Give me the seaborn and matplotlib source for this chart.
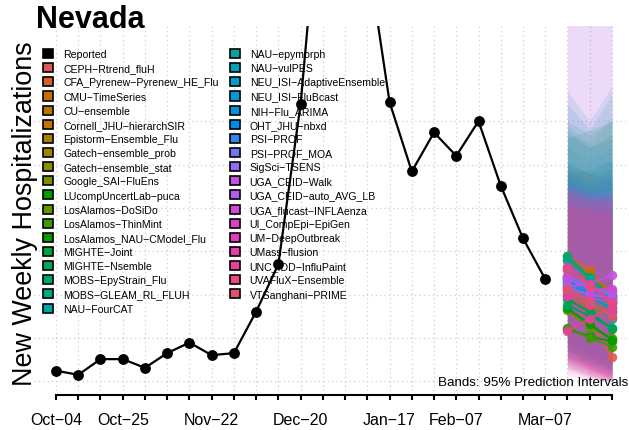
import numpy as np
import pandas as pd
import matplotlib
matplotlib.use("Agg")
import matplotlib.pyplot as plt
import matplotlib.dates as mdates
from matplotlib.patches import Patch
import seaborn as sns

# ---------------- data ----------------
season_start = "2025-10-04"
reported = [12.3, 7.5, 25.6, 25.6, 15.6, 32.5, 44.7, 30.2, 32.5, 80.4, 135.0,
            319.7, 606.0, 640.0, 494.0, 322.0, 242.0, 287.0, 260.0, 300.0,
            225.6, 165.0, 118.0]

forecast_dates = ["2026-03-14", "2026-03-21", "2026-03-28"]

models = [
    "CEPH-Rtrend_fluH", "CFA_Pyrenew-Pyrenew_HE_Flu", "CMU-TimeSeries",
    "CU-ensemble", "Cornell_JHU-hierarchSIR", "Epistorm-Ensemble_Flu",
    "Gatech-ensemble_prob", "Gatech-ensemble_stat", "Google_SAI-FluEns",
    "LUcompUncertLab-puca", "LosAlamos-DoSiDo", "LosAlamos-ThinMint",
    "LosAlamos_NAU-CModel_Flu", "MIGHTE-Joint", "MIGHTE-Nsemble",
    "MOBS-EpyStrain_Flu", "MOBS-GLEAM_RL_FLUH", "NAU-FourCAT",
    "NAU-epymorph", "NAU-vulPES", "NEU_ISI-AdaptiveEnsemble",
    "NEU_ISI-FluBcast", "NIH-Flu_ARIMA", "OHT_JHU-nbxd", "PSI-PROF",
    "PSI-PROF_MOA", "SigSci-TSENS", "UGA_CEID-Walk", "UGA_CEID-auto_AVG_LB",
    "UGA_flucast-INFLAenza", "UI_CompEpi-EpiGen", "UM-DeepOutbreak",
    "UMass-flusion", "UNC_IDD-InfluPaint", "UVAFluX-Ensemble",
    "VTSanghani-PRIME",
]

# median forecast per model (3 weekly horizons)
fc_median = [
    [108, 72, 28], [145, 128, 96], [128, 118, 104], [105, 90, 80],
    [140, 125, 100], [118, 104, 90], [110, 98, 86], [102, 92, 80],
    [98, 86, 74], [60, 52, 46], [82, 62, 50], [62, 50, 40],
    [84, 66, 48], [95, 80, 60], [88, 75, 62], [145, 120, 98],
    [140, 118, 92], [120, 100, 82], [132, 112, 96], [115, 96, 72],
    [118, 104, 94], [112, 98, 84], [120, 108, 98], [116, 100, 90],
    [110, 106, 100], [122, 110, 98], [118, 108, 102], [110, 112, 123],
    [108, 100, 96], [120, 106, 106], [100, 96, 92], [132, 112, 92],
    [98, 88, 80], [58, 72, 86], [130, 110, 90], [106, 92, 74],
]

# 95% prediction interval bounds per model
fc_lower = [
    [40, 15, 2], [55, 40, 28], [50, 40, 30], [45, 32, 20],
    [55, 40, 28], [48, 36, 26], [45, 34, 24], [42, 32, 22],
    [40, 30, 20], [28, 20, 14], [35, 24, 16], [26, 18, 12],
    [34, 24, 14], [38, 28, 18], [35, 26, 18], [50, 38, 28],
    [46, 34, 24], [40, 28, 18], [44, 32, 22], [36, 24, 12],
    [40, 28, 18], [36, 24, 14], [34, 22, 12], [30, 20, 10],
    [28, 18, 8], [26, 16, 6], [20, 10, 2], [15, 6, 0],
    [24, 14, 5], [18, 8, 0], [22, 12, 4], [28, 16, 6],
    [12, 4, 0], [6, 2, 0], [24, 12, 3], [16, 6, 0],
]
fc_upper = [
    [220, 210, 195], [250, 240, 230], [240, 235, 230], [225, 215, 205],
    [245, 240, 235], [235, 228, 222], [230, 222, 215], [222, 215, 210],
    [230, 220, 212], [215, 208, 200], [240, 245, 255], [210, 202, 195],
    [280, 290, 300], [250, 240, 245], [290, 270, 285], [300, 285, 300],
    [285, 270, 280], [320, 290, 330], [295, 275, 305], [335, 300, 340],
    [270, 255, 270], [255, 240, 255], [245, 232, 245], [238, 225, 238],
    [232, 220, 228], [228, 218, 224], [470, 480, 490], [450, 460, 470],
    [225, 215, 220], [220, 210, 215], [215, 205, 210], [225, 215, 210],
    [210, 200, 195], [200, 200, 205], [220, 210, 205], [205, 195, 190],
]

tick_dates = ["2025-10-04", "2025-10-25", "2025-11-22", "2025-12-20",
              "2026-01-17", "2026-02-07", "2026-03-07"]
tick_labels = ["Oct\u221204", "Oct\u221225", "Nov\u221222", "Dec\u221220",
               "Jan\u221217", "Feb\u221207", "Mar\u221207"]
grid_levels = [0, 50, 100, 150, 200, 250, 300]


# ---------------- colours (HCL hue wheel, like ggplot) ----------------
def hcl_hex(h, c, l):
    hr = np.deg2rad(h)
    u, v = c * np.cos(hr), c * np.sin(hr)
    xn, yn, zn = 95.047, 100.0, 108.883
    y = yn * ((l + 16) / 116) ** 3 if l > 8 else yn * l / 903.3
    den = xn + 15 * yn + 3 * zn
    un, vn = 4 * xn / den, 9 * yn / den
    up, vp = u / (13 * l) + un, v / (13 * l) + vn
    x = 9 * y * up / (4 * vp)
    z = y * (12 - 3 * up - 20 * vp) / (4 * vp)
    x, y, z = x / 100, y / 100, z / 100
    rgb = np.array([
        3.2404542 * x - 1.5371385 * y - 0.4985314 * z,
        -0.9692660 * x + 1.8760108 * y + 0.0415560 * z,
        0.0556434 * x - 0.2040259 * y + 1.0572252 * z,
    ])
    rgb = np.clip(rgb, 0, 1)
    rgb = np.where(rgb <= 0.0031308, 12.92 * rgb,
                   1.055 * rgb ** (1 / 2.4) - 0.055)
    return matplotlib.colors.to_hex(np.clip(rgb, 0, 1))


rank_order = sorted(models, key=lambda s: s.lower())
n_mod = len(models)
palette = {m: hcl_hex(15 + 360 * rank_order.index(m) / n_mod, 100, 55)
           for m in models}

# ---------------- tidy frames ----------------
obs_dates = pd.date_range(season_start, periods=len(reported), freq="7D")
obs = pd.DataFrame({"date": obs_dates, "value": reported})

fc_dt = pd.to_datetime(forecast_dates)
fc = pd.DataFrame({
    "model": np.repeat(models, len(fc_dt)),
    "date": np.tile(fc_dt, n_mod),
    "median": np.ravel(fc_median),
})

# ---------------- figure ----------------
sns.set_style("white")
FONT = ["Liberation Sans", "DejaVu Sans"]
plt.rcParams.update({
    "font.family": FONT,
    "text.color": "black",
    "xtick.color": "black",
    "xtick.labelcolor": "black",
    "axes.labelcolor": "black",
})

W, H = 629, 431
fig = plt.figure(figsize=(W / 100, H / 100), dpi=100)
ax = fig.add_axes([33.76 / W, (H - 396) / H, 600.4 / W, 369 / H])

first = pd.Timestamp(season_start)
week_ticks = pd.date_range(first, periods=26, freq="7D")
ax.set_xlim(first - pd.Timedelta(days=7), first + pd.Timedelta(days=26 * 7))
ax.set_ylim(-15.76, 409.76)

grid_kw = dict(color="#cfcfcf", linestyle=(0, (1, 2.5)), linewidth=0.9)
for g in grid_levels:
    ax.axhline(g, zorder=0, **grid_kw)
for t in week_ticks:
    ax.axvline(t, zorder=0, **grid_kw)

# prediction bands
for m, lo, hi in zip(models, fc_lower, fc_upper):
    ax.fill_between(fc_dt, lo, hi, color=palette[m], alpha=0.12,
                    linewidth=0, zorder=1)

# model medians
sns.lineplot(data=fc, x="date", y="median", hue="model", hue_order=models,
             palette=palette, marker="o", markersize=6.8, markeredgewidth=0,
             linewidth=1.6, alpha=0.9, legend=False, ax=ax, zorder=3)

# reported series
sns.lineplot(data=obs, x="date", y="value", color="black", marker="o",
             markersize=7.8, markeredgewidth=0, linewidth=1.6, ax=ax,
             zorder=4)

# axes styling
for side in ["top", "right", "left"]:
    ax.spines[side].set_visible(False)
tick_nums = mdates.date2num(week_ticks.to_pydatetime())
ax.spines["bottom"].set_bounds(tick_nums[0], tick_nums[-1])
ax.spines["bottom"].set_linewidth(1.5)
ax.spines["bottom"].set_color("black")
ax.set_yticks([])
label_map = dict(zip(pd.to_datetime(tick_dates), tick_labels))
ax.set_xticks(tick_nums)
ax.set_xticklabels([label_map.get(t, "") for t in week_ticks], fontsize=11.5,
                   color="black")
ax.tick_params(axis="x", length=3.5, width=1.5, color="black", pad=9,
               bottom=True)
ax.set_xlabel("")
ax.set_ylabel("")

fig.text(36 / W, 1 - 27.5 / H, "Nevada", fontsize=22, fontweight="bold",
         family=FONT, color="black", ha="left", va="baseline")
fig.text(32 / W, 1 - 214 / H, "New Weekly Hospitalizations", fontsize=19.4,
         family=FONT, color="black", rotation=90, rotation_mode="anchor",
         ha="center", va="baseline")
ax.text(628.5 / W, 1 - 385.7 / H, "Bands: 95% Prediction Intervals",
        transform=fig.transFigure, fontsize=9.6, ha="right", va="baseline",
        color="black", zorder=6)

# legend
handles = [Patch(facecolor="black", edgecolor="black", linewidth=1.2)]
labels = ["Reported"]
for m in models:
    handles.append(Patch(facecolor=palette[m], edgecolor="black",
                         linewidth=1.2))
    labels.append(m.replace("-", "\u2212"))
leg = fig.legend(handles, labels, loc="upper left",
                 bbox_to_anchor=(43 / W, 1 - 50 / H), ncol=2, frameon=False,
                 fontsize=7.6, borderaxespad=0, borderpad=0,
                 handlelength=0.95, handleheight=0.95, handletextpad=0.95,
                 labelspacing=0.375, columnspacing=1.05)
for txt in leg.get_texts():
    txt.set_color("black")

fig.savefig("out.png", dpi=100)
